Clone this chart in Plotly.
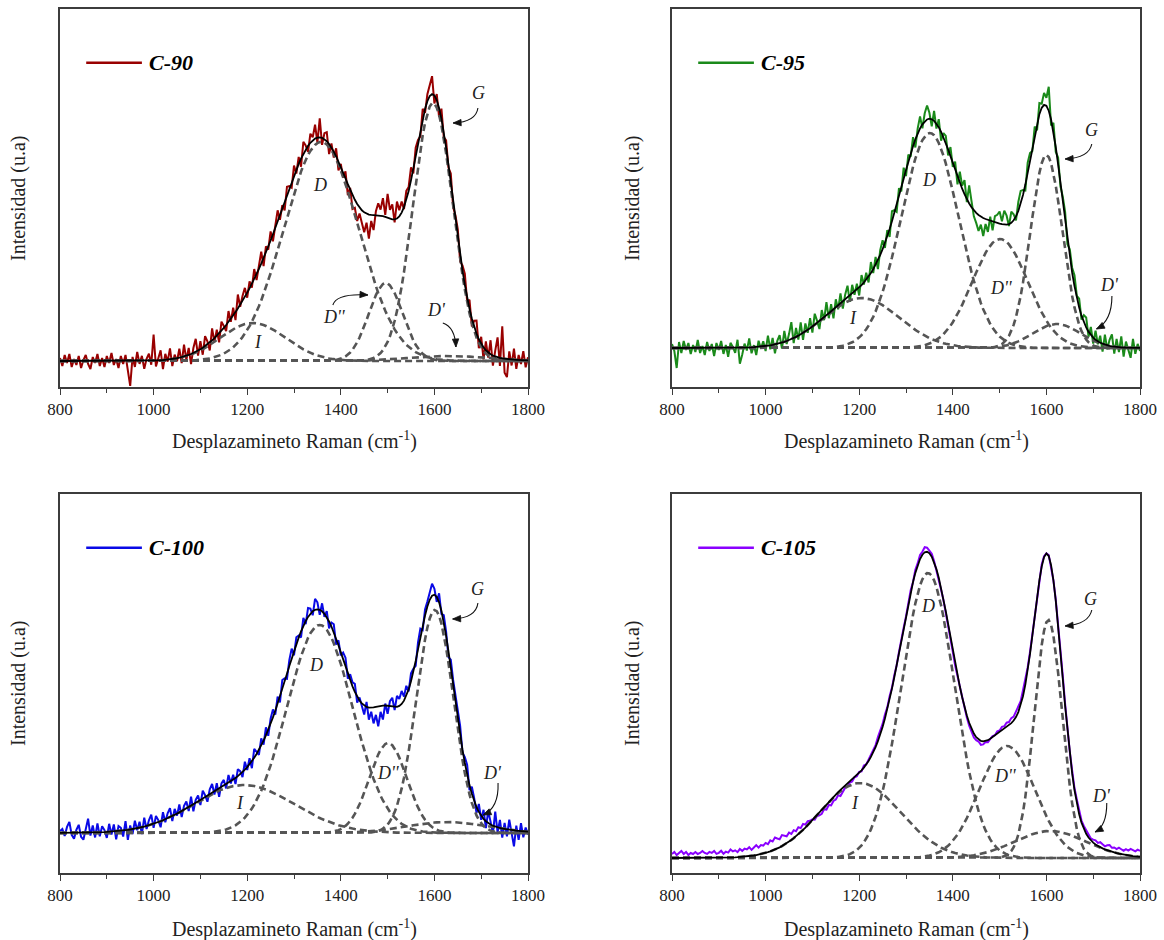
import numpy as np
import plotly.graph_objects as go
from plotly.subplots import make_subplots

# Raman shift grid (cm-1)
shift = np.arange(800, 1801, 5)

band_names = ["I", "D", "D''", "G", "D'"]

# Fitted Gaussian bands: heights (a.u.), centres (cm-1), FWHM (cm-1)
c90_height = [38, 219, 78, 258, 5]
c90_center = [1212, 1358, 1496, 1597, 1630]
c90_fwhm = [165, 188, 85, 100, 200]

c95_height = [50, 215, 109, 193, 24]
c95_center = [1205, 1351, 1501, 1600, 1622]
c95_fwhm = [190, 145, 140, 80, 120]

c100_height = [48, 208, 90, 223, 11]
c100_center = [1193, 1355, 1501, 1601, 1627]
c100_fwhm = [250, 165, 95, 93, 200]

c105_height = [75, 285, 112, 238, 27]
c105_center = [1202, 1347, 1516, 1604, 1608]
c105_fwhm = [205, 134, 141, 70, 180]

# Residuals of the measured spectra about the fitted envelope (a.u.), one per grid point
c90_resid = [
    3, -5, 6, -2, 7, -6, 2, -4, 5, -7,
    1, 6, -3, -8, 4, -2, 7, -5, 3, -6,
    5, -2, 8, -4, 2, -7, 5, -3, 6, -9,
    -25, 4, -6, 9, -3, 5, -8, 2, 7, -4,
    26, -6, 3, 10, -9, 6, -2, 11, -7, 4,
    -3, 9, -6, 12, -4, 7, -10, 5, 13, -5,
    8, -7, 10, 3, -8, 12, -4, 6, -9, 9,
    2, -6, 11, -3, 8, -8, 14, -2, 5, 9,
    -5, 7, -4, 10, -6, 3, 12, -8, 6, -3,
    9, -7, 5, 11, -5, 3, -9, 8, 2, -6,
    10, -4, 7, -8, 12, 4, -6, 9, 3, 14,
    -5, 19, -7, 6, 9, -10, 4, -6, 8, -9,
    3, -5, 7, -11, 2, -14, -8, -17, -6, -12,
    -20, -9, -24, -6, -15, 4, 12, 6, 18, 2,
    24, 9, 15, -3, 17, 6, 11, -2, 9, 4,
    13, -5, 8, 3, -6, 10, -4, 7, 12, 18,
    -8, 6, -9, 10, -5, 7, -3, 9, -6, 4,
    8, -7, 5, 11, -4, 9, -8, 6, 13, -9,
    7, -12, 9, -5, 14, -10, 6, 20, -8, 32,
    -14, -18, 8, -6, 11, -9, 5, -4, 9, -7,
    3,
]

c95_resid = [
    4, -3, -20, 6, -5, 7, -2, 5, -6, 3,
    -4, 8, -5, 2, -7, 6, -3, 4, -8, 5,
    -2, 7, -6, 3, -9, 5, 1, -5, 8, -16,
    -7, 4, -3, 9, -6, 2, -8, 6, -2, 5,
    -5, 10, -4, 7, -9, 3, 8, -6, 11, -3,
    6, 17, -5, 9, -4, 12, -7, 8, -3, 10,
    -6, 11, 2, -8, 9, -3, 13, -5, 7, -9,
    8, -4, 10, -7, 5, 12, -6, 9, -3, 6,
    -8, 10, -2, 7, -6, 11, -4, 8, -9, 5,
    9, -5, 6, -8, 10, 3, -7, 8, -4, 11,
    -6, 7, -3, 9, -8, 5, 12, -4, 8, 14,
    6, -7, 10, -5, 8, -9, 4, 7, -6, 9,
    -4, 8, -8, 11, 3, 14, -3, 18, 6, -6,
    -10, -16, -8, -18, -5, -12, 4, -9, 6, 8,
    12, 3, 14, 9, -2, 11, 6, -4, 9, 13,
    5, -6, 10, 7, -4, 8, -7, 11, 4, 12,
    8, 24, -6, 9, -5, 7, -3, 6, 10, -4,
    8, 5, 11, 2, 9, -4, 7, 10, -5, 8,
    -6, 9, -3, 7, -8, 10, -4, 6, 12, -7,
    8, -5, 11, -9, 6, -3, -10, 9, -6, 4,
    -3,
]

c100_resid = [
    2, 4, -3, 6, 11, -2, -6, 3, 8, -4,
    -7, 5, 14, -3, 7, -5, 9, -4, 6, 2,
    -6, 8, -3, 7, -8, 5, 3, -6, 9, -10,
    4, -5, 8, -2, 6, -7, 9, -3, 5, 10,
    -4, 7, 2, -6, 8, -3, 5, 9, -5, 6,
    -2, 8, -6, 4, 7, -4, 9, -7, 3, 6,
    -5, 8, 2, -6, 5, 9, -3, 7, -8, 4,
    6, -4, 8, -2, 5, -6, 7, 3, -5, 8,
    -3, 6, -7, 9, 2, -5, 7, -4, 8, -6,
    5, 8, -4, 7, -6, 9, 3, -5, 6, 10,
    -4, 7, 2, -6, 8, -3, 9, 5, -4, 11,
    7, -5, 8, -3, 6, -7, 4, 8, -6, 5,
    -3, 7, 9, -5, 6, 4, 8, -6, 3, -4,
    -9, 5, -12, -4, -16, -8, -20, -6, -14, 2,
    -8, 5, 9, -3, 11, 7, 13, 4, 10, -2,
    8, 3, -5, 7, 9, -4, 6, 5, 8, 12,
    6, -5, 9, -3, 7, 4, -6, 8, 5, 7,
    4, 9, -3, 6, 10, -5, 7, 3, -6, 8,
    -4, 9, -7, 12, 3, -8, 15, -5, 8, -9,
    6, -7, 10, -4, -16, 5, -9, 8, -6, 4,
    -3,
]

c105_resid = [
    4, 6, 3, 5, 7, 4, 6, 3, 5, 4,
    6, 4, 5, 7, 5, 4, 6, 5, 7, 4,
    5, 7, 4, 6, 5, 8, 6, 7, 5, 8,
    6, 8, 7, 9, 6, 8, 10, 7, 9, 8,
    10, 8, 11, 9, 12, 10, 8, 11, 9, 7,
    9, 6, 8, 5, 7, 4, 6, 3, 4, 2,
    1, -2, -1, -3, -4, -2, -5, -3, -6, -4,
    -5, -3, -6, -4, -2, -3, -1, -2, 0, -1,
    1, -1, 2, 0, 1, 2, 3, 2, 4, 3,
    3, 4, 2, 3, 1, 2, 0, 1, -1, 0,
    -1, 1, 2, 0, 3, 2, 4, 3, 5, 4,
    2, 3, 1, -1, 0, -2, -1, -3, -2, -3,
    -2, -3, -1, -2, 0, -1, -2, -3, -2, -4,
    -3, -2, -4, -3, -1, -2, 0, 1, 0, 2,
    1, 3, 2, 4, 3, 5, 4, 6, 5, 4,
    6, 5, 3, 2, 1, 2, 0, 1, 2, 1,
    0, 1, -1, 0, 1, 2, 1, 3, 2, 1,
    2, 3, 2, 4, 3, 2, 3, 4, 3, 2,
    3, 4, 3, 5, 4, 3, 5, 6, 4, 5,
    4, 6, 5, 4, 6, 5, 7, 6, 5, 7,
    6,
]


def gaussian(h, c, w):
    sigma = w / (2.0 * np.sqrt(2.0 * np.log(2.0)))
    return h * np.exp(-0.5 * ((shift - c) / sigma) ** 2)


SERIF = "Liberation Serif"
INK = "#222222"
FRAME = "#3c3c3c"
BAND_COLOR = "#555555"
FIG_W, FIG_H = 1164, 940

samples = [
    dict(name="C-90", color="#990000", h=c90_height, c=c90_center, w=c90_fwhm,
         r=c90_resid, yr=[-26, 352], row=1, col=1),
    dict(name="C-95", color="#1a8a1a", h=c95_height, c=c95_center, w=c95_fwhm,
         r=c95_resid, yr=[-39, 339], row=1, col=2),
    dict(name="C-100", color="#0a0ae6", h=c100_height, c=c100_center, w=c100_fwhm,
         r=c100_resid, yr=[-40, 339], row=2, col=1),
    dict(name="C-105", color="#8a00ff", h=c105_height, c=c105_center, w=c105_fwhm,
         r=c105_resid, yr=[-15, 364], row=2, col=2),
]

# Band label positions (cm-1, a.u.) per panel
label_pos = [
    {"I": (1222, 19), "D": (1355, 176), "D''": (1387, 44), "G": (1695, 268), "D'": (1605, 51)},
    {"I": (1187, 30), "D": (1349, 168), "D''": (1505, 60), "G": (1697, 218), "D'": (1734, 63)},
    {"I": (1185, 30), "D": (1347, 168), "D''": (1501, 60), "G": (1693, 244), "D'": (1725, 60)},
    {"I": (1191, 55), "D": (1347, 252), "D''": (1512, 82), "G": (1695, 259), "D'": (1718, 62)},
]

# Curved pointer arrows: start, control, end (cm-1, a.u.)
pointers = [
    [((1693, 253), (1689, 239), (1640, 238)),
     ((1383, 56), (1391, 68), (1458, 66)),
     ((1618, 38), (1644, 34), (1646, 14))],
    [((1697, 204), (1691, 190), (1640, 189)),
     ((1740, 52), (1740, 27), (1707, 19))],
    [((1693, 230), (1689, 215), (1639, 214)),
     ((1736, 50), (1738, 25), (1704, 18))],
    [((1697, 248), (1691, 234), (1640, 232)),
     ((1729, 55), (1729, 32), (1704, 26))],
]

fig = make_subplots(rows=2, cols=2)

x_domains = {1: [60 / FIG_W, 528 / FIG_W], 2: [672 / FIG_W, 1140 / FIG_W]}
y_domains = {1: [1 - 387 / FIG_H, 1 - 9 / FIG_H], 2: [1 - 873 / FIG_H, 1 - 494 / FIG_H]}

annotations = []
shapes = []

for k, s in enumerate(samples):
    row, col = s["row"], s["col"]
    idx = k + 1
    xr = "x" if idx == 1 else f"x{idx}"
    yr = "y" if idx == 1 else f"y{idx}"

    bands = [gaussian(h, c, w) for h, c, w in zip(s["h"], s["c"], s["w"])]
    envelope = np.sum(bands, axis=0)
    measured = envelope + np.array(s["r"], dtype=float)

    fig.add_trace(go.Scatter(x=shift, y=measured, mode="lines",
                             line=dict(color=s["color"], width=2),
                             name=s["name"], showlegend=False),
                  row=row, col=col)
    for name, b in zip(band_names, bands):
        fig.add_trace(go.Scatter(x=shift, y=b, mode="lines",
                                 line=dict(color=BAND_COLOR, width=2.6, dash="7px,4px"),
                                 name=name, showlegend=False),
                      row=row, col=col)
    fig.add_trace(go.Scatter(x=shift, y=envelope, mode="lines",
                             line=dict(color="black", width=1.8),
                             name="Ajuste", showlegend=False),
                  row=row, col=col)

    axis_n = "" if idx == 1 else str(idx)
    fig.layout[f"xaxis{axis_n}"].update(
        domain=x_domains[col], range=[800, 1800], tickmode="array",
        tickvals=[800, 1000, 1200, 1400, 1600, 1800], automargin=False,
        ticks="outside", ticklen=6, tickwidth=1.3, tickcolor=FRAME,
        minor=dict(tick0=800, dtick=100, ticks="outside", ticklen=4, tickcolor=FRAME, tickwidth=1.2),
        showline=True, linecolor=FRAME, linewidth=1.5, mirror=True,
        showgrid=False, zeroline=False,
        tickfont=dict(family=SERIF, size=17, color=INK),
    )
    fig.layout[f"yaxis{axis_n}"].update(
        domain=y_domains[row], range=s["yr"], showticklabels=False, ticks="",
        automargin=False,
        showline=True, linecolor=FRAME, linewidth=1.5, mirror=True,
        showgrid=False, zeroline=False,
    )

    # pixel scale of this panel, used to shape the arrowheads
    px_x = (x_domains[col][1] - x_domains[col][0]) * FIG_W / 1000.0
    px_y = (y_domains[row][1] - y_domains[row][0]) * FIG_H / (s["yr"][1] - s["yr"][0])

    # legend swatch and sample name
    shapes.append(dict(type="line", xref=f"{xr} domain", yref=f"{yr} domain",
                       x0=0.056, x1=0.175, y0=0.858, y1=0.858,
                       line=dict(color=s["color"], width=2.6)))
    annotations.append(dict(xref=f"{xr} domain", yref=f"{yr} domain", x=0.186, y=0.858,
                            xanchor="left", yanchor="middle", showarrow=False,
                            text=f"<b><i>{s['name']}</i></b>",
                            font=dict(family=SERIF, size=22, color="black")))

    # band labels
    for name, (lx, ly) in label_pos[k].items():
        annotations.append(dict(xref=xr, yref=yr, x=lx, y=ly, showarrow=False,
                                text=f"<i>{name}</i>",
                                font=dict(family=SERIF, size=18, color=INK)))

    # curved pointers with a filled arrowhead along the end tangent
    for (p0, pc, p1) in pointers[k]:
        shapes.append(dict(type="path", xref=xr, yref=yr,
                           path=f"M {p0[0]},{p0[1]} Q {pc[0]},{pc[1]} {p1[0]},{p1[1]}",
                           line=dict(color="#111111", width=1.1)))
        dxp = (p1[0] - pc[0]) * px_x
        dyp = (p1[1] - pc[1]) * px_y
        norm = np.hypot(dxp, dyp)
        ux, uy = dxp / norm, dyp / norm
        hl, hw = 8.0, 3.2
        bx, by = -ux * hl, -uy * hl
        lx_, ly_ = bx - uy * hw, by + ux * hw
        rx_, ry_ = bx + uy * hw, by - ux * hw
        tri = (f"M {p1[0]},{p1[1]} "
               f"L {p1[0] + lx_ / px_x},{p1[1] + ly_ / px_y} "
               f"L {p1[0] + rx_ / px_x},{p1[1] + ry_ / px_y} Z")
        shapes.append(dict(type="path", xref=xr, yref=yr, path=tri,
                           fillcolor="#111111", line=dict(color="#111111", width=0.8)))

# axis titles
for xc in [(60 + 528) / 2 / FIG_W, (672 + 1140) / 2 / FIG_W]:
    for yc in [1 - 440 / FIG_H, 1 - 928 / FIG_H]:
        annotations.append(dict(xref="paper", yref="paper", x=xc, y=yc,
                                xanchor="center", yanchor="middle", showarrow=False,
                                text="Desplazamineto Raman (cm<sup>-1</sup>)",
                                font=dict(family=SERIF, size=20, color=INK)))
for xc in [18 / FIG_W, 632 / FIG_W]:
    for yc in [1 - 198 / FIG_H, 1 - 683 / FIG_H]:
        annotations.append(dict(xref="paper", yref="paper", x=xc, y=yc,
                                xanchor="center", yanchor="middle", showarrow=False,
                                textangle=-90, text="Intensidad (u.a)",
                                font=dict(family=SERIF, size=20, color=INK)))

fig.update_layout(
    width=FIG_W, height=FIG_H,
    margin=dict(l=0, r=0, t=0, b=0, autoexpand=False),
    paper_bgcolor="white", plot_bgcolor="white",
    showlegend=False,
    annotations=annotations, shapes=shapes,
)

fig.write_html("out.html")
